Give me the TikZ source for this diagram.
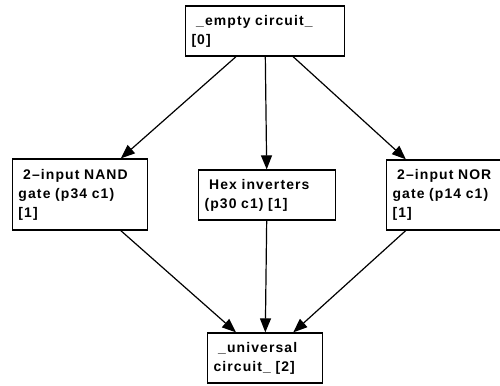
\documentclass[tikz,border=0pt]{standalone}
\usepackage{fontspec}
\setmainfont{Liberation Sans}
\newfontfamily\gvfont[LetterSpace=8]{Liberation Sans}
\usetikzlibrary{arrows.meta}

\begin{document}
\begin{tikzpicture}[x=1bp,y=-1bp,
		gbox/.style 2 args={draw,line width=1.3bp,align=left,inner xsep=6bp,inner ysep=0bp,
			text width=#1-13bp,minimum height=#2,
			font=\gvfont\bfseries\fontsize{14}{19}\selectfont},
		edge/.style={line width=1.2bp,-{Triangle[length=14bp,width=11bp]}}]
		\useasboundingbox (0,0) rectangle (500,385);

		\node[gbox={160bp}{50bp}] (empty) at (265,31) {\ \_empty circuit\_\\{}[0]};

		\node[gbox={136bp}{71bp}] (nand) at (80,194.5) {\ 2–input NAND\\gate (p34 c1)\\{}[1]};
		\node[gbox={138bp}{50bp}] (hex) at (267,195) {\ Hex inverters\\(p30 c1) [1]};
		\node[gbox={118bp}{70bp}] (nor) at (445,195) {\ 2–input NOR\\gate (p14 c1)\\{}[1]};

		\node[gbox={116bp}{50bp}] (univ) at (265,358) {\ \_universal\\circuit\_ [2]};

		\draw[edge] (empty) -- (nand);
		\draw[edge] (empty) -- (hex);
		\draw[edge] (empty) -- (nor);
		\draw[edge] (nand) -- (univ);
		\draw[edge] (hex) -- (univ);
		\draw[edge] (nor) -- (univ);
	\end{tikzpicture}
\end{document}
